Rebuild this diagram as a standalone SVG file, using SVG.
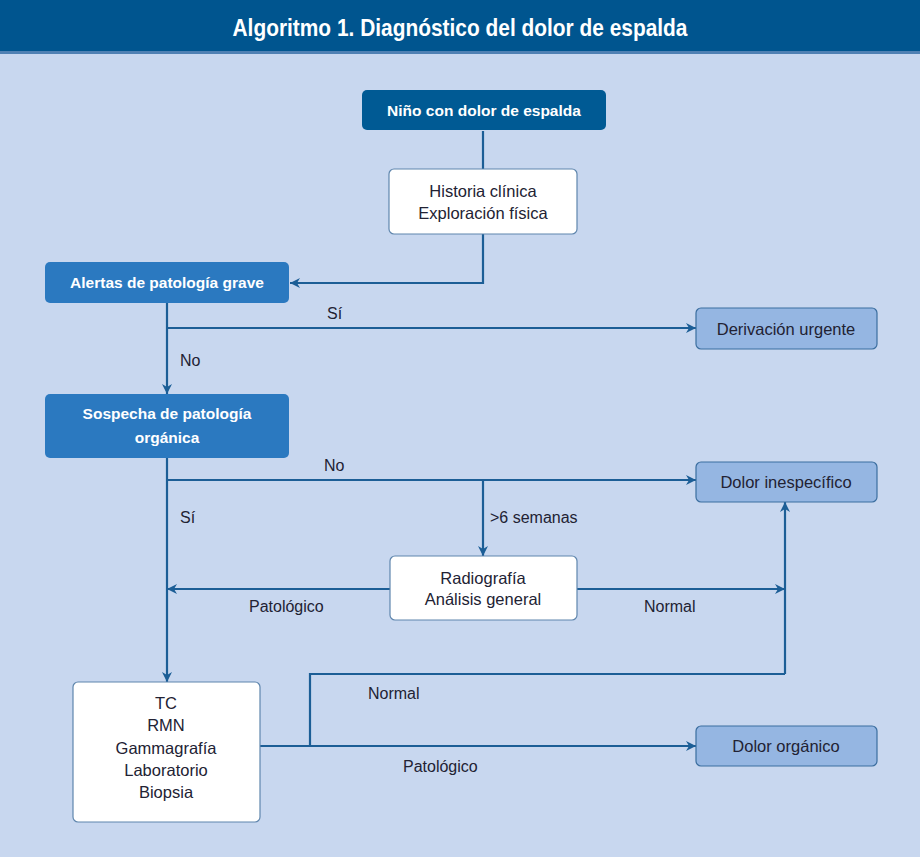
<svg xmlns="http://www.w3.org/2000/svg" width="920" height="857" viewBox="0 0 920 857">
<style>
.dark{fill:#005a94;}
.mid{fill:#2b79c0;}
.light{fill:#95b6e2;stroke:#3b6e9f;stroke-width:1.2;}
.white{fill:#ffffff;stroke:#5f86ad;stroke-width:1.2;}
.tw{font-family:"Liberation Sans",Arial,sans-serif;font-weight:bold;font-size:15.5px;fill:#ffffff;text-anchor:middle;}
.tb{font-family:"Liberation Sans",Arial,sans-serif;font-size:16.5px;fill:#222233;text-anchor:middle;}
.lb{font-family:"Liberation Sans",Arial,sans-serif;font-size:16px;fill:#222233;}
.ln{fill:none;stroke:#1c5e96;stroke-width:2.2;}
</style>
<defs>
<marker id="ah2" viewBox="0 0 10 10" refX="10" refY="5" markerWidth="12" markerHeight="10" markerUnits="userSpaceOnUse" orient="auto">
<path d="M0,0 L10,5 L0,10 L3,5 Z" fill="#1c5e96"/>
</marker>
</defs>
<rect x="0" y="0" width="920" height="857" fill="#c8d7ef"/>
<g id="header">
<rect x="0" y="0" width="920" height="51" fill="#00558f"/>
<rect x="0" y="51" width="920" height="3" fill="#4f80b3"/>
<text x="460" y="36" font-family="'Liberation Sans',Arial,sans-serif" font-weight="bold" font-size="24" fill="#ffffff" text-anchor="middle" textLength="455" lengthAdjust="spacingAndGlyphs">Algoritmo 1. Diagnóstico del dolor de espalda</text>
</g>
<g id="connectors">
<path class="ln" d="M483,131 V169"/>
<path class="ln" d="M483,234 V283 H290" marker-end="url(#ah2)"/>
<path class="ln" d="M167,303 V394" marker-end="url(#ah2)"/>
<path class="ln" d="M167,328 H696" marker-end="url(#ah2)"/>
<path class="ln" d="M167,458 V682" marker-end="url(#ah2)"/>
<path class="ln" d="M167,480 H696" marker-end="url(#ah2)"/>
<path class="ln" d="M483,480 V556" marker-end="url(#ah2)"/>
<path class="ln" d="M390,589 H167" marker-end="url(#ah2)"/>
<path class="ln" d="M577,589 H785" marker-end="url(#ah2)"/>
<path class="ln" d="M785,674 V502" marker-end="url(#ah2)"/>
<path class="ln" d="M310,746 V674 H785"/>
<path class="ln" d="M260,746 H696" marker-end="url(#ah2)"/>
<text class="lb" x="327" y="319">Sí</text>
<text class="lb" x="180" y="366">No</text>
<text class="lb" x="324" y="471">No</text>
<text class="lb" x="180" y="523">Sí</text>
<text class="lb" x="490" y="523">&gt;6 semanas</text>
<text class="lb" x="249" y="612">Patológico</text>
<text class="lb" x="644" y="612">Normal</text>
<text class="lb" x="368" y="699">Normal</text>
<text class="lb" x="403" y="772">Patológico</text>
</g>
<g id="n-nino">
<rect class="dark" x="362" y="90" width="244" height="40" rx="5"/>
<text class="tw" x="484" y="116">Niño con dolor de espalda</text>
</g>
<g id="n-historia">
<rect class="white" x="389" y="169" width="188" height="65" rx="5"/>
<text class="tb" x="483" y="197">Historia clínica</text>
<text class="tb" x="483" y="219">Exploración física</text>
</g>
<g id="n-alertas">
<rect class="mid" x="45" y="262" width="244" height="41" rx="5"/>
<text class="tw" x="167" y="288">Alertas de patología grave</text>
</g>
<g id="n-derivacion">
<rect class="light" x="696" y="308" width="181" height="41" rx="5"/>
<text class="tb" x="786" y="335">Derivación urgente</text>
</g>
<g id="n-sospecha">
<rect class="mid" x="45" y="394" width="244" height="64" rx="5"/>
<text class="tw" x="167" y="419">Sospecha de patología</text>
<text class="tw" x="167" y="443">orgánica</text>
</g>
<g id="n-inespecifico">
<rect class="light" x="696" y="462" width="181" height="40" rx="5"/>
<text class="tb" x="786" y="488">Dolor inespecífico</text>
</g>
<g id="n-radiografia">
<rect class="white" x="390" y="556" width="187" height="64" rx="5"/>
<text class="tb" x="483" y="584">Radiografía</text>
<text class="tb" x="483" y="605">Análisis general</text>
</g>
<g id="n-pruebas">
<rect class="white" x="73" y="682" width="187" height="140" rx="5"/>
<text class="tb" x="166" y="709">TC</text>
<text class="tb" x="166" y="731">RMN</text>
<text class="tb" x="166" y="754">Gammagrafía</text>
<text class="tb" x="166" y="776">Laboratorio</text>
<text class="tb" x="166" y="798">Biopsia</text>
</g>
<g id="n-organico">
<rect class="light" x="696" y="726" width="181" height="40" rx="5"/>
<text class="tb" x="786" y="752">Dolor orgánico</text>
</g>
</svg>
